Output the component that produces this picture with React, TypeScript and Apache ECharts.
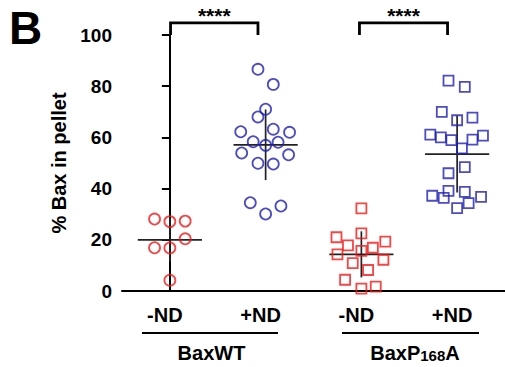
import React, { useEffect, useRef } from "react";
import * as echarts from "echarts";

const categories = ["-ND", "+ND", "-ND", "+ND"];
const yTicks = [0, 20, 40, 60, 80, 100];

// values and horizontal scatter offsets (in category units)
const wtMinusVals = [28.1, 27.1, 27.3, 20.4, 16.9, 16.8, 4.2];
const wtMinusOff = [-0.16, 0, 0.16, 0.16, -0.16, 0, 0];

const wtPlusVals = [86.6, 80.7, 71.0, 68.0, 62.2, 63.2, 62.0, 58.3, 56.9, 58.1, 53.9, 53.2, 49.9, 49.6, 34.5, 30.1, 33.2];
const wtPlusOff = [-0.08, 0.08, 0, -0.08, -0.26, 0.08, 0.25, -0.13, 0, 0.13, -0.25, 0.24, -0.08, 0.08, -0.16, 0, 0.16];

const pMinusVals = [32.3, 21.0, 22.5, 17.8, 19.3, 16.9, 15.7, 14.3, 12.2, 10.9, 8.2, 4.4, 0.9, 1.7];
const pMinusOff = [0, -0.26, 0, -0.14, 0.25, 0.12, 0, -0.25, 0.23, -0.09, 0.07, -0.17, 0, 0.15];

const pPlusVals = [82.2, 79.7, 70.0, 66.7, 67.7, 61.1, 60.0, 60.7, 58.9, 59.1, 55.7, 48.4, 46.0, 39.1, 38.7, 37.2, 36.4, 36.8, 34.3, 32.4];
const pPlusOff = [-0.09, 0.08, -0.16, 0, 0.16, -0.28, -0.17, 0.27, -0.06, 0.16, 0.05, 0.08, -0.09, -0.09, 0.08, -0.26, -0.14, 0.25, 0.12, 0];

const groupMeans = [20.0, 57.1, 14.3, 53.5];
const groupSD = [8.5, 13.8, 9.0, 15.0];

const RED = "#f51616";
const BLUE = "#1f1fb4";
const FONT = "Arial, 'Liberation Sans', Helvetica, sans-serif";

function pts(vals: number[], offs: number[], g: number) {
  return vals.map((v, i) => [g + offs[i], v]);
}

export default function App() {
  const ref = useRef<HTMLDivElement>(null);
  useEffect(() => {
    document.body.style.margin = "0";
    if (!ref.current) return;
    const chart = echarts.init(ref.current, null, { renderer: "svg" });
    const scatterBase = (name: string, data: number[][], symbol: string, color: string) => ({
      name,
      type: "scatter",
      xAxisIndex: 1,
      yAxisIndex: 0,
      symbol,
      symbolSize: symbol === "rect" ? 10 : 11,
      data,
      itemStyle: { color: "rgba(0,0,0,0)", borderColor: color, borderWidth: 1.8 },
      z: 3,
    });
    chart.setOption({
      animation: false,
      grid: { left: 122, top: 35, width: 384, bottom: 76 },
      xAxis: [
        {
          type: "category",
          data: categories,
          boundaryGap: true,
          axisLine: { lineStyle: { color: "#000", width: 2 } },
          axisTick: { alignWithLabel: true, length: 8, lineStyle: { color: "#000", width: 2 } },
          axisLabel: {
            color: "#000",
            fontFamily: FONT,
            fontWeight: "bold",
            fontSize: 20,
            margin: 14,
            padding: [0, 10, 0, 0],
          },
        },
        { type: "value", min: -0.5, max: 3.5, show: false },
      ],
      yAxis: {
        type: "value",
        min: 0,
        max: 100,
        interval: 20,
        name: "% Bax in pellet",
        nameLocation: "middle",
        nameGap: 51,
        nameTextStyle: { color: "#000", fontFamily: FONT, fontWeight: "bold", fontSize: 20 },
        splitLine: { show: false },
        axisLine: { show: true, lineStyle: { color: "#000", width: 2 } },
        axisTick: { show: true, length: 8, lineStyle: { color: "#000", width: 2 } },
        axisLabel: {
          color: "#000",
          fontFamily: FONT,
          fontWeight: "bold",
          fontSize: 19,
          margin: 10,
          formatter: (v: number) => (yTicks.includes(v) ? String(v) : ""),
        },
      },
      series: [
        scatterBase("BaxWT -ND", pts(wtMinusVals, wtMinusOff, 0), "circle", RED),
        scatterBase("BaxWT +ND", pts(wtPlusVals, wtPlusOff, 1), "circle", BLUE),
        scatterBase("BaxP168A -ND", pts(pMinusVals, pMinusOff, 2), "rect", RED),
        scatterBase("BaxP168A +ND", pts(pPlusVals, pPlusOff, 3), "rect", BLUE),
        {
          type: "custom",
          xAxisIndex: 1,
          yAxisIndex: 0,
          z: 2,
          data: groupMeans.map((m, i) => [i, m, groupSD[i]]),
          renderItem: (params: any, api: any) => {
            const g = api.value(0);
            const m = api.value(1);
            const s = api.value(2);
            const a = api.coord([g - 0.335, m]);
            const b = api.coord([g + 0.335, m]);
            const c = api.coord([g, m + s]);
            const d = api.coord([g, m - s]);
            const style = { stroke: "#222", lineWidth: 1.7 };
            return {
              type: "group",
              children: [
                { type: "line", shape: { x1: a[0], y1: a[1], x2: b[0], y2: b[1] }, style },
                { type: "line", shape: { x1: c[0], y1: c[1], x2: d[0], y2: d[1] }, style },
              ],
            };
          },
        },
      ],
    });

    const px = (x: number, y: number) => chart.convertToPixel({ xAxisIndex: 1, yAxisIndex: 0 }, [x, y]) as number[];
    const bracket = (x0: number, x1: number) => {
      const p0 = px(x0, 100);
      const p1 = px(x0, 104.7);
      const p2 = px(x1, 104.7);
      const p3 = px(x1, 100);
      return [
        {
          type: "polyline",
          shape: { points: [p0, p1, p2, p3] },
          style: { stroke: "#000", lineWidth: 2.8, fill: "none" },
        },
        {
          type: "text",
          x: (p1[0] + p2[0]) / 2,
          y: 5,
          style: {
            text: "****",
            fill: "#000",
            font: `bold 21px ${FONT}`,
            textAlign: "center",
            textVerticalAlign: "top",
          },
        },
      ];
    };

    chart.setOption({
      graphic: [
        {
          type: "text",
          left: 9,
          top: 5,
          style: { text: "B", fill: "#000", font: `bold 46px ${FONT}` },
        },
        ...bracket(0.007, 0.92),
        ...bracket(1.98, 2.9),
        { type: "line", shape: { x1: 142, y1: 333, x2: 278, y2: 333 }, style: { stroke: "#000", lineWidth: 2.2 } },
        { type: "line", shape: { x1: 342, y1: 333, x2: 479, y2: 333 }, style: { stroke: "#000", lineWidth: 2.2 } },
        {
          type: "text",
          x: 211.5,
          y: 353,
          style: {
            text: "BaxWT",
            fill: "#000",
            font: `bold 20px ${FONT}`,
            textAlign: "center",
            textVerticalAlign: "middle",
          },
        },
        {
          type: "text",
          x: 415,
          y: 353,
          style: {
            text: "{a|BaxP}{b|168}{a|A}",
            textAlign: "center",
            textVerticalAlign: "middle",
            rich: {
              a: { fontFamily: FONT, fontWeight: "bold", fontSize: 20, fill: "#000", color: "#000" },
              b: { fontFamily: FONT, fontWeight: "bold", fontSize: 15, fill: "#000", color: "#000", verticalAlign: "bottom", padding: [4, 0, 0, 0] },
            },
          },
        },
      ],
    });
    return () => chart.dispose();
  }, []);
  return <div ref={ref} style={{ width: 505, height: 367 }} />;
}
